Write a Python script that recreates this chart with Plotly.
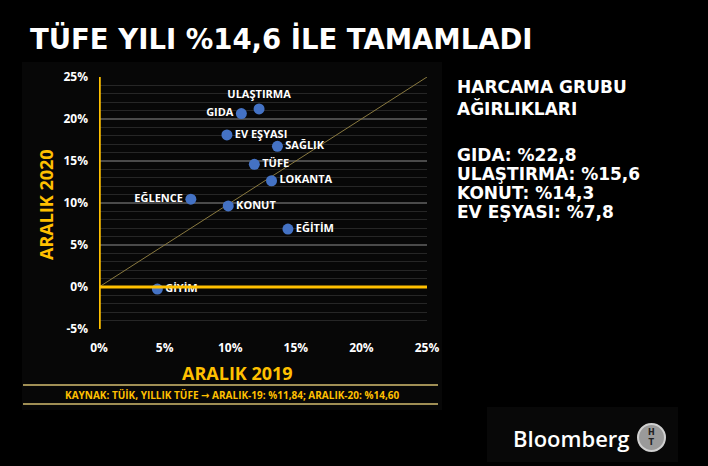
import plotly.graph_objects as go

# ---- data ----
categories = ["ULAŞTIRMA", "GIDA", "EV EŞYASI", "SAĞLIK", "TÜFE", "LOKANTA",
              "EĞLENCE", "KONUT", "EĞİTİM", "GİYİM"]
aralik_2019 = [12.2, 10.85, 9.75, 13.6, 11.84, 13.15, 7.0, 9.85, 14.4, 4.45]
aralik_2020 = [21.2, 20.65, 18.1, 16.75, 14.60, 12.65, 10.45, 9.65, 6.9, -0.25]
label_pos = ["top center", "middle left", "middle right", "middle right", "middle right",
             "middle right", "middle left", "middle right", "middle right", "middle right"]

x_ticks = [0, 5, 10, 15, 20, 25]
x_ticktext = ["0%", "5%", "10%", "15%", "20%", "25%"]
y_ticks = [-5, 0, 5, 10, 15, 20, 25]
y_ticktext = ["-5%", "0%", "5%", "10%", "15%", "20%", "25%"]

title_text = "TÜFE YILI %14,6 İLE TAMAMLADI"
x_title = "ARALIK 2019"
y_title = "ARALIK 2020"
source_text = ("KAYNAK: TÜİK, YILLIK TÜFE <span style='font-family:DejaVu Sans'>→</span> "
               "ARALIK-19: %11,84; ARALIK-20: %14,60")
weights_header = ["HARCAMA GRUBU", "AĞIRLIKLARI"]
weights_lines = ["GIDA: %22,8", "ULAŞTIRMA: %15,6", "KONUT: %14,3", "EV EŞYASI: %7,8"]

GOLD = "#FFC000"
BLUE = "#4472C4"

fig = go.Figure()

# diagonal reference line
fig.add_trace(go.Scatter(x=[0, 25], y=[0, 25], mode="lines",
                         line=dict(color="#8a7a40", width=1), hoverinfo="skip",
                         showlegend=False))

fig.add_trace(go.Scatter(
    x=aralik_2019, y=aralik_2020, mode="markers+text",
    text=categories, textposition=label_pos,
    textfont=dict(family="Open Sans", size=11, color="white", weight="bold"),
    marker=dict(color=BLUE, size=11),
    showlegend=False, cliponaxis=False))


def px_x(px):
    return (px - 99) / 328


def px_y(py):
    return (329 - py) / 252


shapes = [
    # chart panel background
    dict(type="rect", xref="paper", yref="paper", layer="below",
         x0=px_x(22), x1=px_x(442), y0=px_y(410), y1=px_y(62),
         fillcolor="#070707", line=dict(width=0)),
    # yellow axes
    dict(type="line", xref="x", yref="y", x0=0, x1=25, y0=0, y1=0,
         line=dict(color=GOLD, width=3)),
    dict(type="line", xref="x", yref="y", x0=0, x1=0, y0=-5, y1=25,
         line=dict(color=GOLD, width=3.5)),
    # bottom source lines
    dict(type="line", xref="paper", yref="paper", x0=px_x(23), x1=px_x(438),
         y0=px_y(385), y1=px_y(385), line=dict(color="#a08f55", width=2)),
    dict(type="line", xref="paper", yref="paper", x0=px_x(23), x1=px_x(438),
         y0=px_y(404), y1=px_y(404), line=dict(color="#a08f55", width=2)),
    # bloomberg box
    dict(type="rect", xref="paper", yref="paper", layer="below",
         x0=px_x(487), x1=px_x(678), y0=px_y(462), y1=px_y(407),
         fillcolor="#080808", line=dict(width=0)),
    # logo circle
    dict(type="circle", xref="paper", yref="paper",
         x0=px_x(638), x1=px_x(665), y0=px_y(451), y1=px_y(424),
         fillcolor="#9a9a9a", line=dict(color="#d0d0d0", width=2)),
]

annotations = [
    dict(text=title_text, xref="paper", yref="paper", x=px_x(28), y=px_y(38),
         xanchor="left", yanchor="middle", showarrow=False,
         font=dict(family="DejaVu Sans", size=27.5, color="white", weight="bold")),
    dict(text=x_title, xref="paper", yref="paper", x=px_x(237), y=px_y(373),
         xanchor="center", yanchor="middle", showarrow=False,
         font=dict(family="Open Sans", size=18, color=GOLD, weight="bold")),
    dict(text=y_title, xref="paper", yref="paper", x=px_x(46), y=px_y(205),
         xanchor="center", yanchor="middle", showarrow=False, textangle=-90,
         font=dict(family="Open Sans", size=18, color=GOLD, weight="bold")),
    dict(text=source_text, xref="paper", yref="paper", x=px_x(232), y=px_y(395),
         xanchor="center", yanchor="middle", showarrow=False,
         font=dict(family="Open Sans", size=10, color=GOLD, weight="bold")),
    dict(text="Bloomberg", xref="paper", yref="paper", x=px_x(571), y=px_y(438),
         xanchor="center", yanchor="middle", showarrow=False,
         font=dict(family="Open Sans", size=22, color="white", weight=600)),
    dict(text="H<br>T", xref="paper", yref="paper", x=px_x(651.5), y=px_y(437.5),
         xanchor="center", yanchor="middle", showarrow=False,
         font=dict(family="DejaVu Sans", size=8, color="#222", weight="bold")),
]
for i, line in enumerate(weights_header):
    annotations.append(dict(text=line, xref="paper", yref="paper", x=px_x(455),
                            y=px_y(87 + 21 * i), xanchor="left", yanchor="middle",
                            showarrow=False,
                            font=dict(family="DejaVu Sans", size=17, color="white",
                                      weight="bold")))
for i, line in enumerate(weights_lines):
    annotations.append(dict(text=line, xref="paper", yref="paper", x=px_x(455),
                            y=px_y(155 + 19 * i), xanchor="left", yanchor="middle",
                            showarrow=False,
                            font=dict(family="DejaVu Sans", size=17, color="white",
                                      weight="bold")))

fig.update_layout(
    width=708, height=466,
    margin=dict(l=99, r=281, t=77, b=137),
    paper_bgcolor="black", plot_bgcolor="rgba(0,0,0,0)",
    shapes=shapes, annotations=annotations,
    xaxis=dict(range=[0, 25], tickvals=x_ticks, ticktext=x_ticktext,
               showgrid=False, zeroline=False, showline=False, ticks="",
               ticklabelstandoff=10,
               tickfont=dict(family="Open Sans", size=12, color="white", weight="bold"),
               fixedrange=True),
    yaxis=dict(range=[-5, 25], tickvals=y_ticks, ticktext=y_ticktext,
               showgrid=True, gridcolor="#4a4a4a", gridwidth=1.5,
               minor=dict(dtick=1, showgrid=True, gridcolor="#262626", gridwidth=1),
               zeroline=False, showline=False, ticks="", ticklabelstandoff=10,
               tickfont=dict(family="Open Sans", size=12, color="white", weight="bold"),
               fixedrange=True),
)

fig.write_html("out.html", config={"displayModeBar": False},
               post_script="document.body.style.margin='0';document.body.style.background='black';")
